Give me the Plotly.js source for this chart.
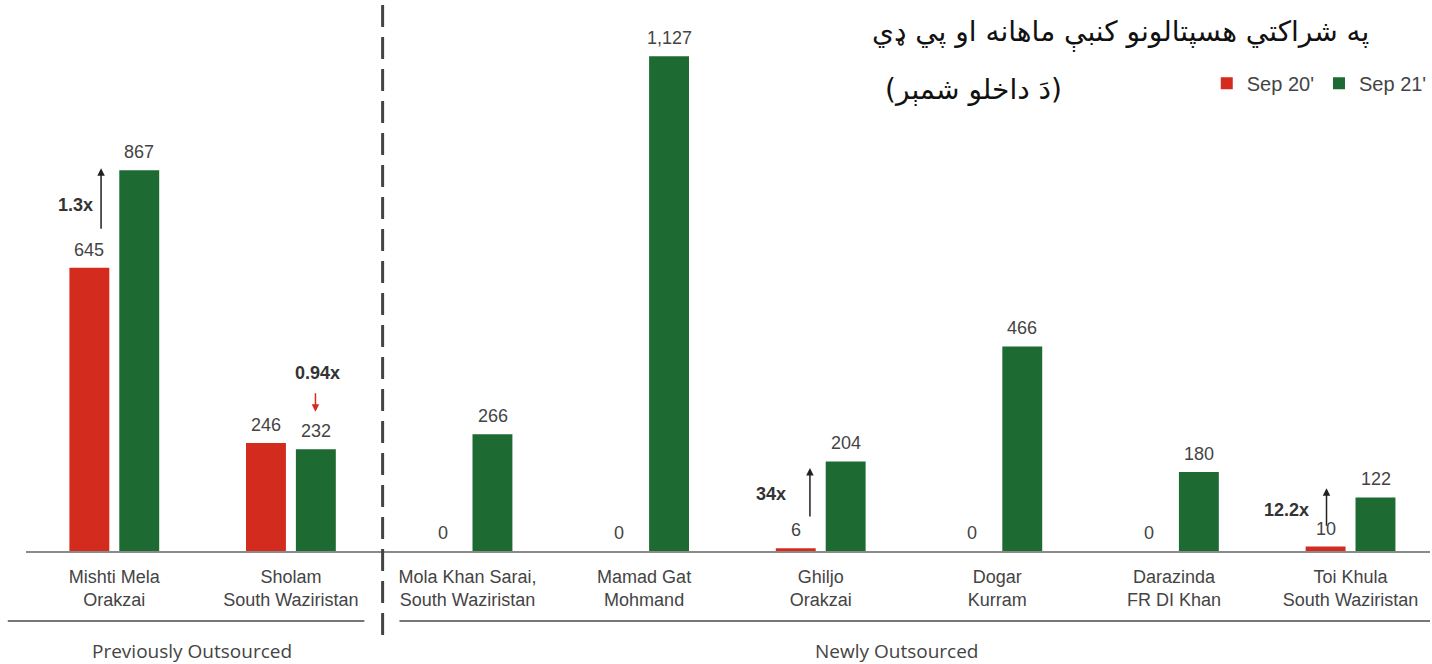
<!DOCTYPE html>
<html>
<head>
<meta charset="utf-8">
<script src="https://cdn.plot.ly/plotly-3.0.1.min.js"></script>
<style>html,body{margin:0;padding:0;background:#fff;}#chart{width:1432px;height:664px;}</style>
</head>
<body>
<div id="chart"></div>
<script>
const categories = [
  "Mishti Mela<br>Orakzai",
  "Sholam<br>South Waziristan",
  "Mola Khan Sarai,<br>South Waziristan",
  "Mamad Gat<br>Mohmand",
  "Ghiljo<br>Orakzai",
  "Dogar<br>Kurram",
  "Darazinda<br>FR DI Khan",
  "Toi Khula<br>South Waziristan"
];
const sep20 = [645, 246, 0, 0, 6, 0, 0, 10];
const sep21 = [867, 232, 266, 1127, 204, 466, 180, 122];
const seriesNames = ["Sep 20'", "Sep 21'"];
const groupLabels = ["Previously Outsourced", "Newly Outsourced"];
const titleLine1 = "په شراکتي هسپتالونو کنبې ماهانه او پي ډي";
const titleLine2 = "(دَ داخلو شمېر)";
const ratioLabels = ["1.3x", "0.94x", "34x", "12.2x"];

const RED = "#d42b1f", GREEN = "#1d6a33";
const FONT = "Liberation Sans, Arial, sans-serif";

const traces = [
  {type: "bar", name: seriesNames[0], x: categories, y: sep20, marker: {color: RED}, hoverinfo: "none"},
  {type: "bar", name: seriesNames[1], x: categories, y: sep21, marker: {color: GREEN}, hoverinfo: "none"}
];

const annotations = [];
const fmt = v => v.toLocaleString("en-US");
[sep20, sep21].forEach((arr, si) => {
  arr.forEach((v, i) => {
    annotations.push({
      x: categories[i], y: v, xref: "x", yref: "y",
      text: fmt(v), showarrow: false,
      xshift: si === 0 ? -25 : 25, yshift: 18, yanchor: "middle",
      font: {family: FONT, size: 18, color: "#444"}
    });
  });
});

// ratio labels
const ratioPos = [[-0.222, 788], [1.15, 405], [3.72, 130], [6.64, 93]];
ratioLabels.forEach((t, k) => {
  annotations.push({
    x: ratioPos[k][0], y: ratioPos[k][1], xref: "x", yref: "y",
    text: "<b>" + t + "</b>", showarrow: false, xanchor: "center", yanchor: "middle",
    font: {family: FONT, size: 18, color: "#333"}
  });
});
// arrows
const arrows = [[-0.075, 872, 62, "#222"], [1.139, 317, -20, "#d42b1f"], [3.939, 189, 50, "#222"], [6.864, 143, 39, "#222"]];
arrows.forEach(a => {
  annotations.push({
    x: a[0], y: a[1], xref: "x", yref: "y", text: "", showarrow: true,
    ax: 0, ay: a[2], arrowhead: 2, arrowsize: 1, arrowwidth: 1.5, arrowcolor: a[3], standoff: 0
  });
});

// group labels
annotations.push({x: 0.118, y: -0.1815, xref: "paper", yref: "paper", text: groupLabels[0], showarrow: false,
  xanchor: "center", yanchor: "middle", font: {family: "Open Sans, sans-serif", size: 19, color: "#444"}});
annotations.push({x: 0.620, y: -0.1815, xref: "paper", yref: "paper", text: groupLabels[1], showarrow: false,
  xanchor: "center", yanchor: "middle", font: {family: "Open Sans, sans-serif", size: 19, color: "#444"}});

// title
annotations.push({x: 0.958, y: 0.940, xref: "paper", yref: "paper", text: titleLine1, showarrow: false,
  xanchor: "right", yanchor: "middle", font: {family: "DejaVu Sans, sans-serif", size: 28, color: "#111"}});
annotations.push({x: 0.739, y: 0.837, xref: "paper", yref: "paper", text: titleLine2, showarrow: false,
  xanchor: "right", yanchor: "middle", font: {family: "DejaVu Sans, sans-serif", size: 28, color: "#111"}});

const shapes = [
  {type: "line", xref: "paper", yref: "paper", x0: 0.254, x1: 0.254, y0: 0.991, y1: -0.1615,
    line: {color: "#444", width: 3, dash: "22px,10px"}},
  {type: "line", xref: "paper", yref: "paper", x0: -0.013, x1: 0.241, y0: -0.127, y1: -0.127,
    line: {color: "#777", width: 2}},
  {type: "line", xref: "paper", yref: "paper", x0: 0.266, x1: 1.0, y0: -0.127, y1: -0.127,
    line: {color: "#777", width: 2}}
];

const layout = {
  width: 1432, height: 664,
  margin: {l: 26, r: 0, t: 0, b: 113},
  paper_bgcolor: "#fff", plot_bgcolor: "#fff",
  barmode: "group", bargap: 0.435, bargroupgap: 0.2,
  showlegend: true,
  legend: {orientation: "h", x: 0.841, y: 0.849, xanchor: "left", yanchor: "middle",
    font: {family: FONT, size: 20, color: "#444"}, itemwidth: 30, tracegroupgap: 0},
  xaxis: {type: "category", range: [-0.5, 7.45], showline: true, linecolor: "#8a8a8a", linewidth: 2,
    ticks: "", showgrid: false, zeroline: false, fixedrange: true, ticklabelstandoff: 8,
    tickfont: {family: FONT, size: 18, color: "#444"}},
  yaxis: {range: [0, 1255], visible: false, showgrid: false, zeroline: false, fixedrange: true},
  annotations: annotations,
  shapes: shapes
};

Plotly.newPlot("chart", traces, layout, {displayModeBar: false, staticPlot: true});
</script>
</body>
</html>
